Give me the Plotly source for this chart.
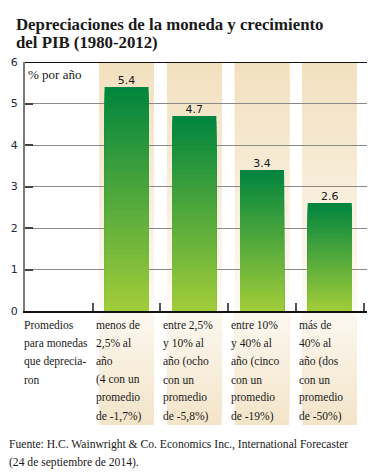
import plotly.graph_objects as go

# ---- data ----
categories = ["Promedios", "menos de 2,5%", "entre 2,5% y 10%", "entre 10% y 40%", "más de 40%"]
values = [None, 5.4, 4.7, 3.4, 2.6]
value_labels = ["", "5.4", "4.7", "3.4", "2.6"]
label_lines = [
    ["Promedios", "para monedas", "que deprecia-", "ron"],
    ["menos de", "2,5% al", "año", "(4 con un", "promedio", "de -1,7%)"],
    ["entre 2,5%", "y 10% al", "año (ocho", "con un", "promedio", "de -5,8%)"],
    ["entre 10%", "y 40% al", "año (cinco", "con un", "promedio", "de -19%)"],
    ["más de", "40% al", "año (dos", "con un", "promedio", "de -50%)"],
]
y_ticks = [0, 1, 2, 3, 4, 5, 6]
title_lines = ["Depreciaciones de la moneda y crecimiento", "del PIB (1980-2012)"]
unit_label = "% por año"
source_lines = ["Fuente: H.C. Wainwright & Co. Economics Inc., International Forecaster",
                "(24 de septiembre de 2014)."]

# ---- layout geometry ----
W, H = 378, 474
ML, MR, MT, MB = 18, 10.5, 62, 163
PW = W - ML - MR
PH = H - MT - MB


def px_x(px):
    return (px - ML) / PW


def px_y(py):
    return (H - MB - py) / PH


def lerp(c0, c1, t):
    return "rgb(%d,%d,%d)" % tuple(round(a + (b - a) * t) for a, b in zip(c0, c1))


fig = go.Figure()

# gradient bars: overlapping layers, each starting at 0
N = 40
bar_top = (0, 132, 62)
bar_bot = (162, 205, 58)
for k in range(N):
    frac = (N - k) / N
    col = lerp(bar_bot, bar_top, (N - k - 0.5) / N)
    fig.add_trace(go.Bar(
        x=categories,
        y=[None if v is None else v * frac for v in values],
        marker=dict(color=col, line=dict(width=0)),
        width=0.65, hoverinfo="skip", showlegend=False,
    ))

# value labels
fig.add_trace(go.Scatter(
    x=categories, y=values, mode="text", text=value_labels,
    textposition="top center",
    textfont=dict(family="DejaVu Sans", size=11, color="#1a1a1a"),
    showlegend=False, hoverinfo="skip",
))

shapes = []
# beige background columns (chart area): tan at top -> near white at bottom
M = 40
tan_top = (242, 224, 190)
light = (253, 250, 245)
for i in range(1, len(categories)):
    for k in range(M):
        col = lerp(light, tan_top, (k + 0.5) / M)
        shapes.append(dict(type="rect", xref="x", yref="y",
                           x0=i - 0.4, x1=i + 0.4, y0=6 * k / M, y1=6,
                           fillcolor=col, line=dict(width=0), layer="below"))
    # label area: light at top -> tan at bottom
    y_bot = px_y(425)
    for k in range(M):
        col = lerp((243, 228, 200), (252, 248, 241), (k + 0.5) / M)
        shapes.append(dict(type="rect", xref="x", yref="paper",
                           x0=i - 0.4, x1=i + 0.4, y0=y_bot + (0 - y_bot) * k / M, y1=0,
                           fillcolor=col, line=dict(width=0), layer="below"))

# top black line at 6
shapes.append(dict(type="line", xref="paper", yref="y", x0=0, x1=1, y0=6, y1=6,
                   line=dict(color="#111111", width=2), layer="above"))

annotations = []
# title
for j, t in enumerate(title_lines):
    annotations.append(dict(text="<b>%s</b>" % t, xref="paper", yref="paper",
                            x=px_x(9), y=px_y(24 + j * 19), xanchor="left", yanchor="middle",
                            showarrow=False, borderpad=0, borderwidth=0,
                            font=dict(family="Liberation Serif", size=16.8, color="#1a1a1a")))
# unit label
annotations.append(dict(text=unit_label, xref="paper", yref="paper",
                        x=px_x(19), y=px_y(74), xanchor="left", yanchor="middle",
                        showarrow=False,
                        font=dict(family="Liberation Serif", size=13, color="#1a1a1a")))
# category labels
for i, lines in enumerate(label_lines):
    x0 = -0.45 if i == 0 else i - 0.4
    for j, ln in enumerate(lines):
        annotations.append(dict(text=ln, xref="x", yref="paper",
                                x=x0, xshift=-6, y=px_y(325 + j * 18.2),
                                xanchor="left", yanchor="middle", showarrow=False,
                                font=dict(family="Liberation Serif", size=11.5, color="#1a1a1a")))
# source
for j, ln in enumerate(source_lines):
    annotations.append(dict(text=ln, xref="paper", yref="paper",
                            x=px_x(0), y=px_y(444 + j * 18), xanchor="left", yanchor="middle",
                            showarrow=False,
                            font=dict(family="Liberation Serif", size=11.6, color="#1a1a1a")))

fig.update_layout(
    width=W, height=H,
    margin=dict(l=ML, r=MR, t=MT, b=MB, pad=0),
    paper_bgcolor="white", plot_bgcolor="white",
    barmode="overlay", bargap=0.35,
    shapes=shapes, annotations=annotations,
    showlegend=False,
    xaxis=dict(type="category", range=[-0.5, 4.55], tickson="boundaries",
               ticks="inside", ticklen=8, tickcolor="#555555", tickwidth=1.5,
               showticklabels=False, showgrid=False, zeroline=False,
               showline=True, linecolor="#111111", linewidth=1.5, fixedrange=True),
    yaxis=dict(range=[0, 6], tickvals=y_ticks, ticks="inside", ticklen=8,
               tickcolor="#444444", tickwidth=2,
               showgrid=True, gridcolor="#8a8a8a", gridwidth=1.3, zeroline=False,
               showline=True, linecolor="#7a7a7a", linewidth=2,
               tickfont=dict(family="DejaVu Sans", size=11, color="#1f2a44"),
               ticklabelstandoff=3, fixedrange=True),
)

fig.write_html("out.html", config={"displayModeBar": False},
               post_script="document.body.style.margin='0';document.body.style.overflow='hidden';")
